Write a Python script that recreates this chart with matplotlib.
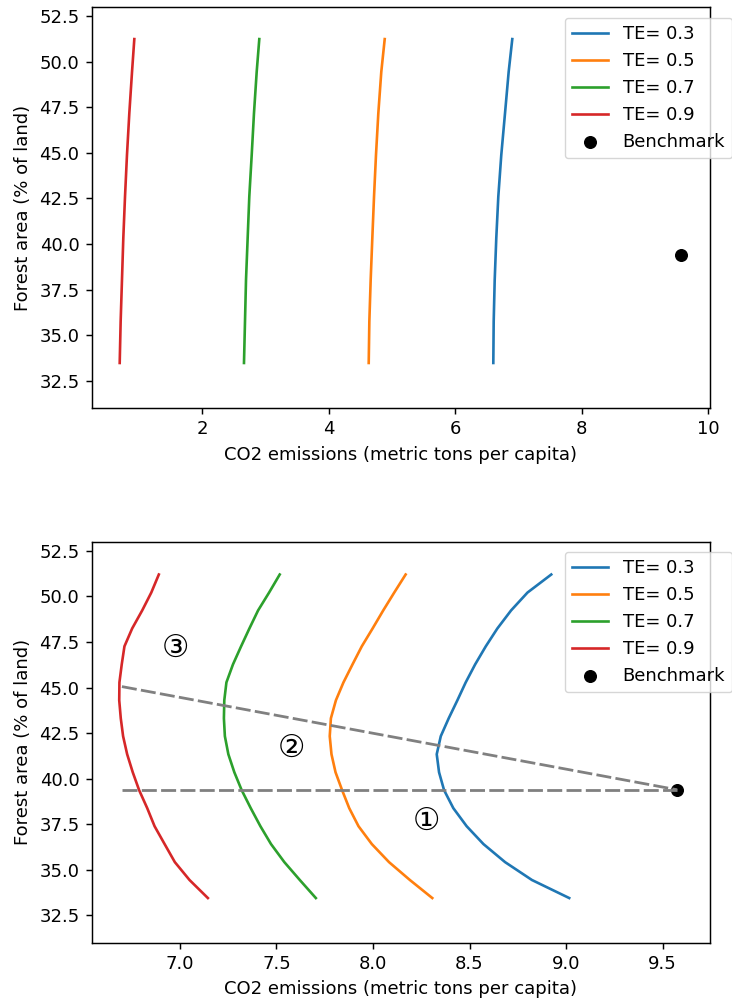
import matplotlib
matplotlib.use("Agg")
import matplotlib.pyplot as plt

plt.rcParams["font.family"] = "DejaVu Sans"
plt.rcParams["font.size"] = 13
plt.rcParams["axes.linewidth"] = 1.05
plt.rcParams["axes.labelpad"] = 5.2
for ax_name in ("xtick", "ytick"):
    plt.rcParams[f"{ax_name}.major.size"] = 4.5
    plt.rcParams[f"{ax_name}.major.width"] = 1.05
    plt.rcParams[f"{ax_name}.major.pad"] = 4.5

# TE levels and their line colours (default cycle order)
te_levels = [0.3, 0.5, 0.7, 0.9]
te_colors = ["tab:blue", "tab:orange", "tab:green", "tab:red"]

# benchmark country
bench_co2 = 9.575
bench_forest = 39.39

# upper panel: near-vertical iso-TE curves
top_forest = [33.47, 35.75, 38.03, 40.32, 42.60, 44.88, 47.17, 49.45, 51.24]
top_co2 = {
    0.3: [6.601, 6.607, 6.623, 6.648, 6.680, 6.727, 6.786, 6.844, 6.901],
    0.5: [4.631, 4.641, 4.662, 4.688, 4.715, 4.746, 4.783, 4.830, 4.884],
    0.7: [2.659, 2.675, 2.691, 2.717, 2.743, 2.781, 2.817, 2.860, 2.901],
    0.9: [0.694, 0.709, 0.730, 0.751, 0.778, 0.809, 0.846, 0.889, 0.925],
}

# lower panel: bent iso-TE curves on a regular forest-area grid
bot_forest = [33.45, 34.44, 35.42, 36.41, 37.39, 38.38, 39.37, 40.35, 41.34, 42.33,
              43.31, 44.30, 45.28, 46.27, 47.26, 48.24, 49.23, 50.21, 51.2]
bot_co2 = {
    0.3: [9.016, 8.823, 8.684, 8.572, 8.485, 8.416, 8.368, 8.342, 8.330, 8.351,
          8.392, 8.437, 8.480, 8.529, 8.584, 8.644, 8.715, 8.800, 8.923],
    0.5: [8.307, 8.191, 8.083, 7.994, 7.925, 7.877, 7.840, 7.806, 7.785, 7.776,
          7.782, 7.808, 7.847, 7.894, 7.942, 7.998, 8.053, 8.110, 8.169],
    0.7: [7.704, 7.621, 7.541, 7.472, 7.417, 7.367, 7.320, 7.282, 7.251, 7.233,
          7.228, 7.230, 7.241, 7.275, 7.317, 7.360, 7.405, 7.462, 7.517],
    0.9: [7.145, 7.050, 6.974, 6.921, 6.869, 6.831, 6.789, 6.756, 6.727, 6.706,
          6.694, 6.686, 6.687, 6.699, 6.713, 6.753, 6.805, 6.852, 6.891],
}

# guide lines from the TE=0.9 frontier back to the benchmark
guide_start_co2 = 6.70
ray_start_forest = 45.05

# region markers
region_labels = ["\u2460", "\u2461", "\u2462"]
region_co2 = [8.278, 7.578, 6.978]
region_forest = [37.65, 41.67, 47.15]

fig = plt.figure(figsize=(7.32, 10.02), dpi=100)
ax_top = fig.add_axes([92 / 732, 594 / 1002, 618 / 732, 401 / 1002])
ax_bot = fig.add_axes([92 / 732, 59.3 / 1002, 618 / 732, 401 / 1002])


def draw_panel(ax, forest, co2):
    for te, c in zip(te_levels, te_colors):
        ax.plot(co2[te], forest, color=c, lw=1.9, label=f"TE= {te}")
    ax.scatter([bench_co2], [bench_forest], color="black", s=70, label="Benchmark")
    ax.set_ylim(31, 53)
    ax.set_xlabel("CO2 emissions (metric tons per capita)")
    ax.set_ylabel("Forest area (% of land)")


draw_panel(ax_top, top_forest, top_co2)
ax_top.set_xlim(0.256, 10.027)
ax_top.legend(loc="upper left", bbox_to_anchor=(0.765, 0.9735), borderaxespad=0)

draw_panel(ax_bot, bot_forest, bot_co2)
ax_bot.plot([guide_start_co2, bench_co2], [bench_forest, bench_forest],
            color="gray", lw=2, dashes=(5.4, 1.55))
ax_bot.plot([guide_start_co2, bench_co2], [ray_start_forest, bench_forest],
            color="gray", lw=2, dashes=(5.4, 1.55))
for lab, x, y in zip(region_labels, region_co2, region_forest):
    ax_bot.text(x, y, lab, fontsize=22, ha="center", va="center")
ax_bot.set_xlim(6.545, 9.745)
ax_bot.legend(loc="upper left", bbox_to_anchor=(0.765, 0.975), borderaxespad=0)

fig.savefig("out.png", dpi=100)
